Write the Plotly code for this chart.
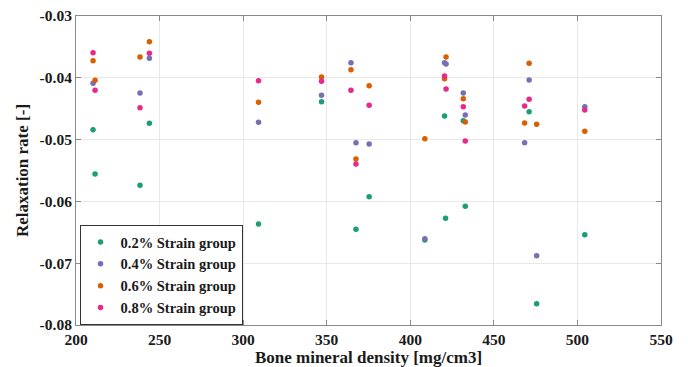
import plotly.graph_objects as go

# Bone mineral density [mg/cm3] and relaxation rate per strain group
bmd_02 = [210.2, 211.4, 238.3, 243.9, 309.2, 346.9, 367.5, 375.4, 408.7, 420.5, 421.1, 431.7, 432.9, 471.1, 475.6, 504.4]
rate_02 = [-0.0484, -0.05557, -0.05739, -0.04736, -0.06366, -0.04387, -0.06451, -0.05924, -0.06625, -0.04618, -0.06273, -0.04694, -0.06079, -0.04549, -0.07655, -0.06539]

bmd_04 = [210.2, 238.3, 243.9, 309.2, 346.9, 364.5, 367.5, 375.4, 408.7, 420.5, 421.4, 431.7, 432.9, 468.4, 471.1, 475.6, 504.4]
rate_04 = [-0.04089, -0.04246, -0.03684, -0.0472, -0.04283, -0.03756, -0.0505, -0.05071, -0.06603, -0.03756, -0.03777, -0.04246, -0.04602, -0.0505, -0.04036, -0.06879, -0.04468]

bmd_06 = [210.2, 211.4, 238.3, 243.9, 309.2, 346.9, 364.5, 367.5, 375.4, 408.7, 420.5, 421.4, 431.7, 432.9, 468.4, 471.1, 475.6, 504.4]
rate_06 = [-0.03723, -0.0404, -0.03663, -0.03416, -0.04396, -0.03987, -0.03869, -0.05314, -0.04128, -0.04985, -0.04015, -0.03663, -0.04338, -0.04715, -0.04731, -0.03765, -0.04752, -0.04866]

bmd_08 = [210.2, 211.4, 238.3, 243.9, 309.2, 346.9, 364.5, 367.5, 375.4, 420.5, 421.4, 431.7, 432.9, 468.4, 471.1, 504.4]
rate_08 = [-0.03594, -0.04202, -0.04484, -0.03604, -0.04047, -0.04057, -0.04202, -0.05395, -0.04445, -0.03971, -0.04181, -0.04468, -0.05023, -0.04456, -0.04348, -0.04521]

names = ["0.2% Strain group", "0.4% Strain group", "0.6% Strain group", "0.8% Strain group"]
colors = ["#1b9e77", "#7570b3", "#d95f02", "#e7298a"]

x_ticks = [200, 250, 300, 350, 400, 450, 500, 550]
x_ticktext = ["200", "250", "300", "350", "400", "450", "500", "550"]
y_ticks = [-0.08, -0.07, -0.06, -0.05, -0.04, -0.03]
y_ticktext = ["-0.08", "-0.07", "-0.06", "-0.05", "-0.04", "-0.03"]

fig = go.Figure()
for xs, ys, n, c in zip([bmd_02, bmd_04, bmd_06, bmd_08],
                        [rate_02, rate_04, rate_06, rate_08], names, colors):
    fig.add_trace(go.Scatter(x=xs, y=ys, mode="markers", name=n,
                             marker=dict(color=c, size=5.5, line=dict(width=0))))

font_fam = "Liberation Serif"
tickfont = dict(family=font_fam, size=15.5, color="#1a1a1a", weight="bold")
axis_common = dict(showline=True, mirror="ticks", linecolor="#8a8a8a", linewidth=1,
                   ticks="inside", ticklen=5, tickcolor="#8a8a8a",
                   showgrid=True, gridcolor="#e8e8e8", gridwidth=1, zeroline=False,
                   tickfont=tickfont, automargin=False)

fig.update_layout(
    width=688, height=367,
    margin=dict(l=76, r=27, t=16, b=42, autoexpand=False),
    paper_bgcolor="white", plot_bgcolor="white",
    font=dict(family=font_fam, color="#1a1a1a"),
    xaxis=dict(range=[200, 550], tickvals=x_ticks, ticktext=x_ticktext,
               title=dict(text="Bone mineral density [mg/cm3]",
                          font=dict(family=font_fam, size=17, color="#1a1a1a", weight="bold"),
                          standoff=2),
               **axis_common),
    yaxis=dict(range=[-0.08, -0.03], tickvals=y_ticks, ticktext=y_ticktext,
               title=dict(text="Relaxation rate [-]",
                          font=dict(family=font_fam, size=17, color="#1a1a1a", weight="bold"),
                          standoff=6),
               **axis_common),
    legend=dict(x=0.006, y=0.0, xanchor="left", yanchor="bottom",
                bgcolor="white", bordercolor="#333", borderwidth=1,
                font=dict(family=font_fam, size=14.5, color="#1a1a1a", weight="bold"),
                itemsizing="trace", tracegroupgap=0, itemwidth=30),
    showlegend=True,
)

fig.write_html("out.html", config={"displayModeBar": False},
               post_script="document.body.style.margin='0';document.body.style.overflow='hidden';")
